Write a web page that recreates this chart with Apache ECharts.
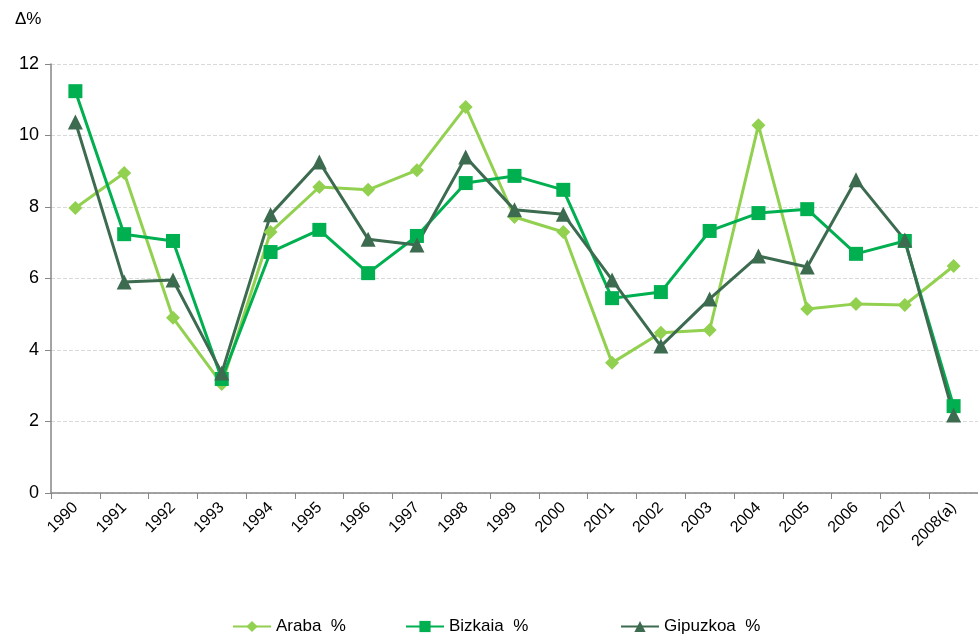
<!DOCTYPE html>
<html><head><meta charset="utf-8">
<script src="https://cdn.jsdelivr.net/npm/echarts@6/dist/echarts.min.js"></script>
<style>html,body{margin:0;padding:0;background:#fff}#c{width:978px;height:637px}</style>
</head><body><div id="c"></div>
<script>
const categories = ['1990','1991','1992','1993','1994','1995','1996','1997','1998','1999','2000','2001','2002','2003','2004','2005','2006','2007','2008(a)'];
const araba = [7.97,8.95,4.9,3.05,7.3,8.56,8.48,9.03,10.8,7.72,7.3,3.64,4.48,4.56,10.29,5.15,5.29,5.26,6.35];
const bizkaia = [11.24,7.24,7.05,3.19,6.74,7.36,6.15,7.19,8.67,8.87,8.48,5.45,5.62,7.33,7.83,7.94,6.69,7.05,2.43];
const gipuzkoa = [10.38,5.9,5.96,3.36,7.78,9.26,7.1,6.94,9.4,7.92,7.8,5.96,4.11,5.43,6.63,6.32,8.76,7.08,2.18];
const seriesNames = ['Araba  %','Bizkaia  %','Gipuzkoa  %'];
const yTicks = {min:0,max:12,interval:2};

const font = 'Liberation Sans, Arial, sans-serif';
const chart = echarts.init(document.getElementById('c'));
function line(name, data, color, symbol, size){
  return {name, type:'line', data, symbol, symbolSize:size, color,
    lineStyle:{width:3,color}, itemStyle:{color}, animation:false};
}
const legendLefts = [227, 400, 615];
chart.setOption({
  animation:false,
  title:{text:'Δ%', left:10, top:6, textStyle:{fontFamily:font,fontSize:17,fontWeight:'normal',color:'#000'}},
  grid:{left:51, right:-8, top:64, bottom:144},
  legend: seriesNames.map((n,i)=>({data:[n], left:legendLefts[i], top:613, itemWidth:38, itemHeight:14,
    textStyle:{fontFamily:font,fontSize:17,color:'#000'}})),
  xAxis:{type:'category', data:categories, boundaryGap:true,
    axisLine:{lineStyle:{color:'#868686',width:1.5}},
    axisTick:{show:true, length:6, lineStyle:{color:'#868686'}},
    axisLabel:{rotate:45, fontFamily:font, fontSize:16, color:'#000', margin:12}},
  yAxis:{type:'value', min:yTicks.min, max:yTicks.max, interval:yTicks.interval,
    axisLine:{show:true, lineStyle:{color:'#868686',width:1.5}},
    axisTick:{show:true, length:6, lineStyle:{color:'#868686'}},
    axisLabel:{fontFamily:font, fontSize:18, color:'#000', margin:12},
    splitLine:{lineStyle:{color:'#d9d9d9', type:'dashed'}}},
  series:[
    line(seriesNames[0], araba, '#92D050', 'diamond', 14),
    line(seriesNames[1], bizkaia, '#00B050', 'rect', 14),
    line(seriesNames[2], gipuzkoa, '#3D6B50', 'triangle', 15)
  ]
});
</script></body></html>
